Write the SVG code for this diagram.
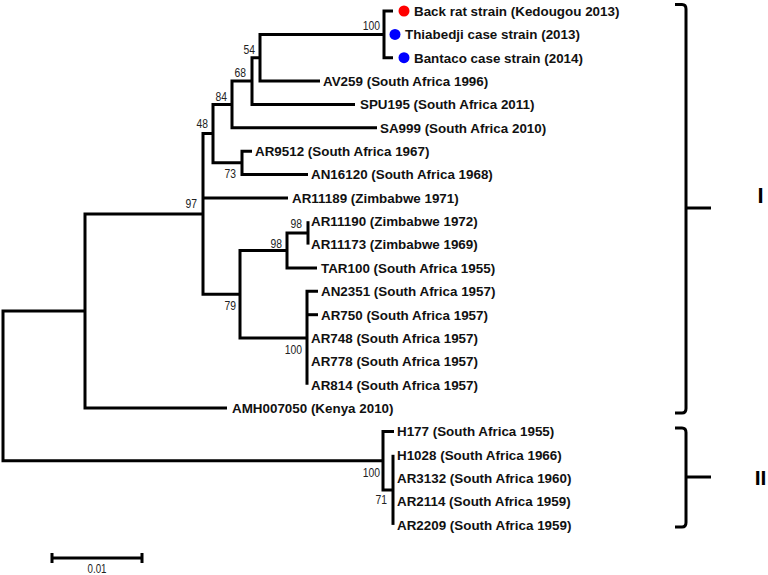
<svg xmlns="http://www.w3.org/2000/svg" width="768" height="575" viewBox="0 0 768 575">
<style>
.leaf{font-family:"Liberation Sans",Arial,sans-serif;font-weight:bold;font-size:13.4px;fill:#111}
.bs{font-family:"Liberation Sans",Arial,sans-serif;font-size:12px;fill:#222;text-anchor:end}
.br{fill:none;stroke:#000;stroke-width:3;stroke-linejoin:miter;stroke-linecap:butt}
.clade{font-family:"Liberation Sans",Arial,sans-serif;font-weight:bold;font-size:22px;fill:#000;text-anchor:middle}
</style>
<rect width="768" height="575" fill="#fff"/>
<g id="connectors" class="br">
<path d="M393,11 H384 V57.7 H393"/>
<path d="M384,34.4 H260 V81.1 H320"/>
<path d="M260,57.7 H252 V104.4 H355"/>
<path d="M252,81.1 H232 V127.8 H377"/>
<path d="M252,151.2 H242 V174.5 H308"/>
<path d="M232,104.4 H213 V162.8 H242"/>
<path d="M213,133.6 H203 V294.2 H240"/>
<path d="M203,197.9 H288"/>
<path d="M308,221.2 V244.6"/>
<path d="M308,232.9 H287 V268 H317"/>
<path d="M318,291.3 H307 V384.8"/>
<path d="M307,314.7 H318"/>
<path d="M287,250.4 H240 V338 H307"/>
<path d="M203,213.9 H85 V408.1 H227"/>
<path d="M393,454.8 V524.9"/>
<path d="M394,431.5 H383 V489.9 H393"/>
<path d="M85,311 H3 V460.7 H383"/>
</g>
<g id="n-bootstrap">
<text class="bs" x="380" y="30" textLength="17.3" lengthAdjust="spacingAndGlyphs">100</text>
<text class="bs" x="255" y="54" textLength="11.5" lengthAdjust="spacingAndGlyphs">54</text>
<text class="bs" x="246" y="77" textLength="11.5" lengthAdjust="spacingAndGlyphs">68</text>
<text class="bs" x="227" y="101" textLength="11.5" lengthAdjust="spacingAndGlyphs">84</text>
<text class="bs" x="208" y="128" textLength="11.5" lengthAdjust="spacingAndGlyphs">48</text>
<text class="bs" x="236" y="178" textLength="11.5" lengthAdjust="spacingAndGlyphs">73</text>
<text class="bs" x="197" y="208" textLength="11.5" lengthAdjust="spacingAndGlyphs">97</text>
<text class="bs" x="302" y="228" textLength="11.5" lengthAdjust="spacingAndGlyphs">98</text>
<text class="bs" x="282" y="248" textLength="11.5" lengthAdjust="spacingAndGlyphs">98</text>
<text class="bs" x="236" y="310" textLength="11.5" lengthAdjust="spacingAndGlyphs">79</text>
<text class="bs" x="302" y="354" textLength="17.3" lengthAdjust="spacingAndGlyphs">100</text>
<text class="bs" x="380" y="477" textLength="17.3" lengthAdjust="spacingAndGlyphs">100</text>
<text class="bs" x="387" y="504" textLength="11.5" lengthAdjust="spacingAndGlyphs">71</text>
</g>
<g id="leaf-backrat"><circle cx="404" cy="11" r="5.5" fill="#f00"/><text class="leaf" x="414" y="15.8">Back rat strain (Kedougou 2013)</text></g>
<g id="leaf-thiabedji"><circle cx="395" cy="34.4" r="5.5" fill="#00f"/><text class="leaf" x="405" y="39.2">Thiabedji case strain (2013)</text></g>
<g id="leaf-bantaco"><circle cx="404" cy="57.7" r="5.5" fill="#00f"/><text class="leaf" x="414" y="62.5">Bantaco case strain (2014)</text></g>
<g id="leaf-av259"><text class="leaf" x="323" y="85.9">AV259 (South Africa 1996)</text></g>
<g id="leaf-spu195"><text class="leaf" x="360" y="109.2">SPU195 (South Africa 2011)</text></g>
<g id="leaf-sa999"><text class="leaf" x="380" y="132.6">SA999 (South Africa 2010)</text></g>
<g id="leaf-ar9512"><text class="leaf" x="255" y="156">AR9512 (South Africa 1967)</text></g>
<g id="leaf-an16120"><text class="leaf" x="311" y="179.3">AN16120 (South Africa 1968)</text></g>
<g id="leaf-ar11189"><text class="leaf" x="292" y="202.7">AR11189 (Zimbabwe 1971)</text></g>
<g id="leaf-ar11190"><text class="leaf" x="311" y="226">AR11190 (Zimbabwe 1972)</text></g>
<g id="leaf-ar11173"><text class="leaf" x="311" y="249.4">AR11173 (Zimbabwe 1969)</text></g>
<g id="leaf-tar100"><text class="leaf" x="321" y="272.8">TAR100 (South Africa 1955)</text></g>
<g id="leaf-an2351"><text class="leaf" x="321" y="296.1">AN2351 (South Africa 1957)</text></g>
<g id="leaf-ar750"><text class="leaf" x="321" y="319.5">AR750 (South Africa 1957)</text></g>
<g id="leaf-ar748"><text class="leaf" x="311" y="342.8">AR748 (South Africa 1957)</text></g>
<g id="leaf-ar778"><text class="leaf" x="311" y="366.2">AR778 (South Africa 1957)</text></g>
<g id="leaf-ar814"><text class="leaf" x="311" y="389.6">AR814 (South Africa 1957)</text></g>
<g id="leaf-amh007050"><text class="leaf" x="232" y="412.9">AMH007050 (Kenya 2010)</text></g>
<g id="leaf-h177"><text class="leaf" x="397" y="436.3">H177 (South Africa 1955)</text></g>
<g id="leaf-h1028"><text class="leaf" x="397" y="459.6">H1028 (South Africa 1966)</text></g>
<g id="leaf-ar3132"><text class="leaf" x="397" y="483">AR3132 (South Africa 1960)</text></g>
<g id="leaf-ar2114"><text class="leaf" x="397" y="506.4">AR2114 (South Africa 1959)</text></g>
<g id="leaf-ar2209"><text class="leaf" x="397" y="529.7">AR2209 (South Africa 1959)</text></g>
<g id="clade-I">
<path class="br" d="M675,4.5 H682 Q686,4.5 686,9 V408.5 Q686,413 682,413 H675"/>
<path class="br" d="M686,208 H711"/>
<text class="clade" x="760.5" y="203">I</text>
</g>
<g id="clade-II">
<path class="br" d="M675,428 H682 Q686,428 686,432.5 V522.5 Q686,527 682,527 H675"/>
<path class="br" d="M686,477 H711"/>
<text class="clade" x="760.5" y="485" style="font-size:21px">II</text>
</g>
<g id="scale-bar">
<path class="br" d="M52,558 H142 M52,553 V563 M142,553 V563"/>
<text class="bs" x="106.5" y="573" textLength="19" lengthAdjust="spacingAndGlyphs">0.01</text>
</g>
</svg>
